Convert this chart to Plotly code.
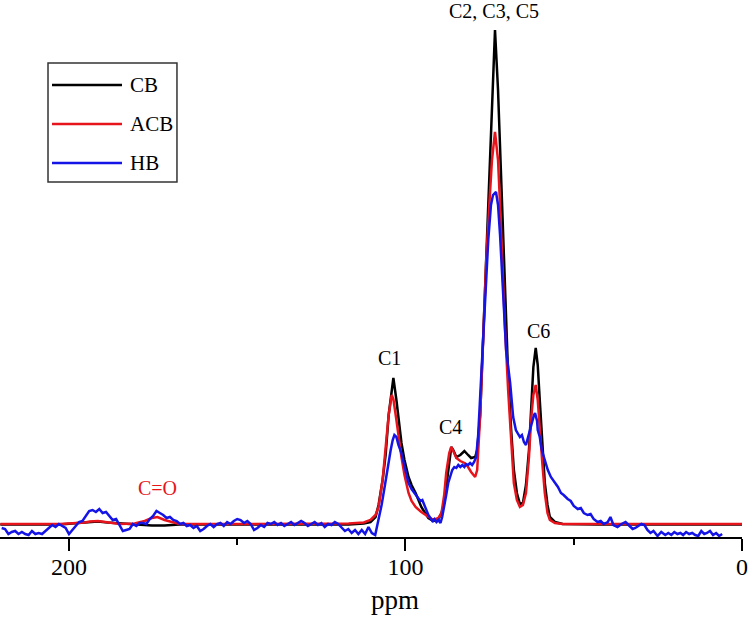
import plotly.graph_objects as go

# ---------------- data ----------------
# chemical shift grid shared by CB and ACB (ppm)
ppm_smooth = [220.4, 202.7, 195.3, 193.8, 191.4, 188.5, 184.9, 180.5, 177.5, 175.4, 173.7,
              171.6, 167.2, 146.4, 116.9, 112.4, 110.4, 108.9, 108.0, 106.8, 105.9, 105.0,
              104.1, 103.6, 102.7, 102.1, 101.2, 100.3, 99.1, 98.2, 97.0, 95.3, 93.2, 91.7,
              90.2, 89.3, 88.5, 87.9, 87.0, 86.4, 85.8, 84.9, 83.7, 82.5, 81.4, 80.5, 79.3,
              78.7, 77.8, 76.9, 76.0, 75.1, 74.3, 73.4, 72.5, 71.9, 71.3, 70.4, 69.5, 68.6,
              67.8, 66.9, 66.0, 65.1, 64.2, 63.3, 62.7, 62.0, 61.3, 60.7, 60.1, 59.3, 58.6,
              57.8, 57.1, 55.6, 53.3, 42.9, 0.0]

cb = [0.5, 0.5, 2.5, 3, 3.5, 2.5, 1.5, 0.5, -0.5, -0.5, -0.5,
      -0.5, 0.5, 0.5, 0.5, 1.5, 3, 8, 20, 45, 70, 110,
      138, 147, 125, 105, 82, 65, 48, 40, 32, 18, 7, 4,
      6, 12, 22, 38, 65, 78, 75, 68, 70, 74, 70, 67, 68,
      75, 110, 190, 270, 335, 420, 495, 435, 380, 310, 225, 150, 95,
      55, 32, 21, 22, 40, 75, 120, 158, 177, 160, 125, 82, 42,
      20, 8, 3, 1, 0.5, 0.5]

acb = [1, 1, 2.5, 3.5, 4, 2.5, 1, 1.5, 4, 7, 8,
       5, 1, 1, 1.5, 2.5, 5, 10, 18, 45, 75, 110,
       130, 126, 105, 88, 68, 50, 32, 24, 18, 13, 8, 5,
       7, 12, 30, 52, 72, 78, 74, 67, 64, 62, 58, 53, 48,
       55, 110, 190, 265, 320, 365, 393, 365, 320, 265, 195, 135, 80,
       42, 25, 18, 20, 32, 68, 105, 130, 140, 125, 95, 60, 32,
       12, 5, 2, 1, 1, 1]

ppm_hb = [220, 219, 218, 217, 216, 215, 214, 213, 212, 211, 210, 209, 208, 207, 206, 205,
          204, 203, 202, 201, 200, 199, 198, 197, 196, 195, 194, 193, 192, 191, 190, 189,
          188, 187, 186, 185, 184, 183, 182, 181, 180, 179, 178, 177, 176, 175, 174, 173,
          172, 171, 170, 169, 168, 167, 166, 165, 164, 163, 162, 161, 160, 159, 158, 157,
          156, 155, 154, 153, 152, 151, 150, 149, 148, 147, 146, 145, 144, 143, 142, 141,
          140, 139, 138, 137, 136, 135, 134, 133, 132, 131, 130, 129, 128, 127, 126, 125,
          124, 123, 122, 121, 120, 119, 118, 117, 116, 115, 114, 113, 112, 111, 110, 109,
          108.0, 107.1, 106.2, 105.3, 104.4, 103.8, 103.3, 102.7, 102.1, 101.2, 100.3,
          99.1, 98.2, 97.0, 96.2, 95.6, 95.0, 94.4, 93.8, 93.2, 92.6, 92.0, 91.4, 90.8,
          90.2, 89.6, 89.1, 88.5, 87.9, 87.3, 86.7, 86.1, 85.5, 84.9, 84.3, 83.7, 83.1,
          82.5, 82.0, 81.4, 80.8, 80.2, 79.6, 79.0, 78.4, 77.8, 77.2, 76.3, 75.4, 74.6,
          74.0, 73.1, 72.5, 71.9, 71.3, 71.0, 70.1, 68.9, 68.0, 67.2, 66.6, 66.0, 65.4,
          64.8, 64.2, 63.6, 63.0, 62.4, 61.8, 61.5, 60.9, 60.7, 60.1, 59.5, 58.6, 57.7,
          56.8, 55.6, 54.7, 53.8, 53.0, 51.8, 50.9, 50.0, 48.8, 47.9, 47.0, 45.9, 45.0,
          44.1, 42.9, 42.0, 41.1, 39.9, 39.1, 38.2, 37.0, 35.8, 34.6, 33.4, 32.5, 31.7,
          30.8, 29.9, 29.0, 28.1, 27.2, 26.3, 25.1, 24.0, 22.8, 21.9, 21.0, 20.1, 19.2,
          18.3, 17.5, 16.6, 15.7, 14.8, 13.9, 13.0, 12.1, 11.2, 10.4, 9.5, 8.6, 7.7,
          6.8, 5.9]

hb = [-3, -4, -9, -7, -6, -9, -7, -9, -10, -6, -9, -8, -9, -6, -4, 0,
      -2, 1, -1, -3, -9, -5, -1, 3, 4, 9, 14, 15, 13, 16, 12, 13,
      9, 5, 6, 0, -6, -5, -4, 1, -1, 2, 2, 1, 6, 9, 14, 12,
      10, 7, 8, 5, 4, 1, 2, -1, 0, -3, -1, -6, -4, -1, 1, -2,
      1, 2, -1, 3, 1, 4, 6, 5, 2, 4, 1, -5, -3, 0, -2, 2,
      1, 3, 0, 2, -1, 1, 3, 0, 2, 4, 2, -1, 1, 3, 0, 2,
      -2, 1, 0, 3, 1, -3, -6, -4, -8, -5, -9, -5, -9, -2, -8, -10,
      5, 20, 38, 58, 75, 85, 90, 88, 80, 72, 58,
      42, 36, 30, 26, 24, 25, 20, 14, 10, 7, 4, 6, 3,
      5, 2, 8, 18, 30, 42, 48, 55, 58, 57, 60, 58, 60,
      58, 61, 60, 62, 60, 63, 68, 90, 130, 170, 230, 285, 320,
      330, 333, 320, 290, 250, 225, 175, 142, 108, 95, 92, 88, 90,
      83, 80, 88, 95, 105, 110, 112, 104, 95, 88, 75, 65, 55,
      48, 42, 38, 32, 30, 26, 24, 19, 16, 17, 12, 10, 11,
      6, 3, 4, 1, 3, 8, 0, -2, 1, 3, -1, -4, -3,
      -1, 1, 0, -5, -8, -6, -11, -7, -10, -8, -10, -7, -9,
      -8, -10, -7, -9, -8, -10, -11, -6, -9, -8, -6, -10, -8,
      -11, -9]

series_names = ["CB", "ACB", "HB"]
peak_labels = ["C2, C3, C5", "C1", "C4", "C6", "C=O"]
x_ticks = [200, 100, 0]
x_title = "ppm"

# ---------------- styling ----------------
FONT = "Liberation Serif, Times New Roman, serif"
colors = {"CB": "#000000", "ACB": "#e8141c", "HB": "#1414e6"}

fig = go.Figure()
for name, xs, ys in [("CB", ppm_smooth, cb), ("ACB", ppm_smooth, acb), ("HB", ppm_hb, hb)]:
    fig.add_trace(go.Scatter(x=xs, y=ys, mode="lines", name=name,
                             line=dict(color=colors[name], width=2.5), showlegend=False))

# peak labels
label_pos = {"C2, C3, C5": (73.7, 514), "C1": (104.7, 167), "C4": (86.7, 98),
             "C6": (60.4, 194), "C=O": (173.7, 37)}
for lab in peak_labels:
    x, y = label_pos[lab]
    fig.add_annotation(x=x, y=y, xref="x", yref="y", text=lab, showarrow=False,
                       xanchor="center", yanchor="middle",
                       font=dict(family=FONT, size=20,
                                 color="#e8141c" if lab == "C=O" else "#000000"))

# axis title placed as annotation (it sits right of the axis centre in the reference)
fig.add_annotation(x=0.533, y=-0.12, xref="paper", yref="paper", text=x_title,
                   showarrow=False, xanchor="center", yanchor="middle",
                   font=dict(family=FONT, size=27, color="#000000"))

# manual legend box
fig.add_shape(type="rect", xref="paper", yref="paper", x0=0.0647, x1=0.2385,
              y0=0.6736, y1=0.8994, line=dict(color="#333333", width=1.5))
leg_y = [0.8577, 0.7837, 0.7097]
for name, yy in zip(series_names, leg_y):
    fig.add_shape(type="line", xref="paper", yref="paper", x0=0.0701, x1=0.1644,
                  y0=yy, y1=yy, line=dict(color=colors[name], width=2.5))
    fig.add_annotation(x=0.1725, y=yy, xref="paper", yref="paper", text=name,
                       showarrow=False, xanchor="left", yanchor="middle",
                       font=dict(family=FONT, size=21, color="#000000"))

fig.update_layout(
    width=750, height=619,
    margin=dict(l=0, r=8, t=10, b=82),
    paper_bgcolor="white", plot_bgcolor="white",
    font=dict(family=FONT, color="#000000"),
)
fig.update_xaxes(range=[220.5, 0], showgrid=False, zeroline=False,
                 showline=True, linecolor="#000000", linewidth=2,
                 ticks="outside", ticklen=12, tickwidth=2, tickcolor="#000000",
                 tickvals=x_ticks, ticktext=[str(t) for t in x_ticks],
                 ticklabelstandoff=-5,
                 tickfont=dict(family=FONT, size=24, color="#000000"),
                 minor=dict(tickvals=[150, 50], ticks="outside", ticklen=6,
                            tickwidth=2, tickcolor="#000000"))
fig.update_yaxes(range=[-12, 515], visible=False)

fig.write_html("out.html", config={"displayModeBar": False},
               post_script="document.body.style.margin='0px';")
